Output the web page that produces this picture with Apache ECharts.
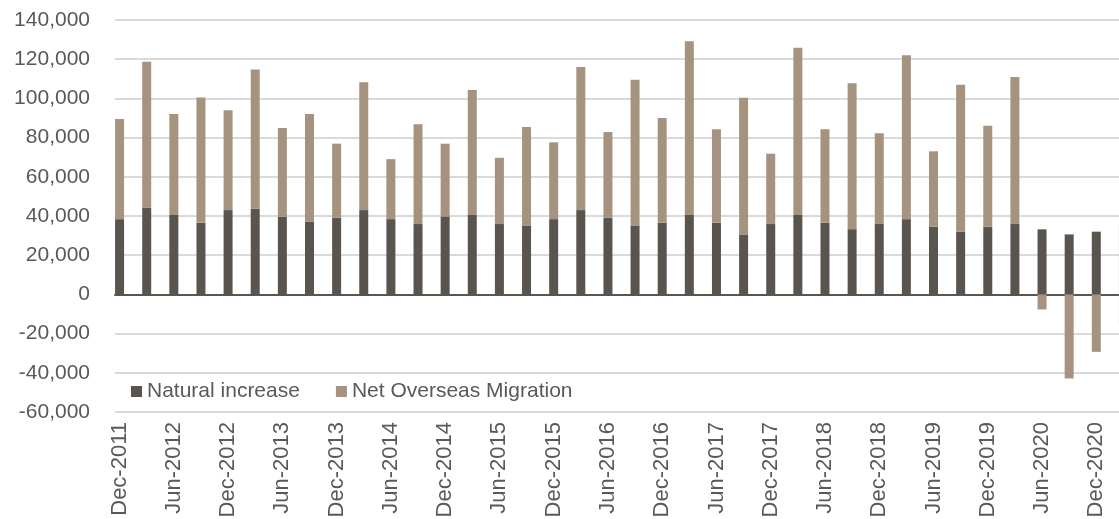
<!DOCTYPE html>
<html>
<head>
<meta charset="utf-8">
<title>Population growth components</title>
<script src="https://cdn.jsdelivr.net/npm/echarts@6/dist/echarts.min.js"></script>
<style>
  html, body { margin: 0; padding: 0; background: #ffffff; }
  #chart { width: 1119px; height: 519px; }
</style>
</head>
<body>
<div id="chart"></div>
<script>
// Quarterly periods
const quarters = [
  'Dec-2011', 'Mar-2012', 'Jun-2012', 'Sep-2012', 'Dec-2012', 'Mar-2013', 'Jun-2013', 'Sep-2013',
  'Dec-2013', 'Mar-2014', 'Jun-2014', 'Sep-2014', 'Dec-2014', 'Mar-2015', 'Jun-2015', 'Sep-2015',
  'Dec-2015', 'Mar-2016', 'Jun-2016', 'Sep-2016', 'Dec-2016', 'Mar-2017', 'Jun-2017', 'Sep-2017',
  'Dec-2017', 'Mar-2018', 'Jun-2018', 'Sep-2018', 'Dec-2018', 'Mar-2019', 'Jun-2019', 'Sep-2019',
  'Dec-2019', 'Mar-2020', 'Jun-2020', 'Sep-2020', 'Dec-2020', 'Mar-2021'
];

// Natural increase (births minus deaths) per quarter
const naturalIncrease = [
  38400, 44400, 40500, 36500, 43000, 43700, 39600, 37200,
  39100, 43000, 38400, 35900, 39800, 40500, 35900, 35200,
  38400, 43000, 39100, 35200, 36500, 40500, 36500, 30600,
  35900, 40500, 36500, 33300, 35900, 38400, 34500, 32000,
  34500, 35900, 33200, 30600, 32000, 36000
];

// Net overseas migration per quarter
const netOverseasMigration = [
  51100, 74300, 51500, 64000, 51000, 71100, 45300, 54800,
  37800, 65200, 30600, 50900, 37100, 63800, 33800, 50200,
  39200, 73000, 43700, 74300, 53500, 88600, 47700, 69700,
  35900, 85300, 47700, 74400, 46300, 83600, 38500, 75000,
  51500, 75000, -7700, -42900, -29300, -14700
];

// Value axis ticks
const yMin = -60000;
const yMax = 140000;
const yStep = 20000;

const FONT = '"Liberation Sans", Arial, sans-serif';
const TEXT = '#595959';
const DARK = '#59544e';
const LIGHT = '#a5937f';

const chart = echarts.init(document.getElementById('chart'), null, { renderer: 'canvas' });

chart.setOption({
  animation: false,
  backgroundColor: '#ffffff',
  textStyle: { fontFamily: FONT },
  legend: {
    left: 131,
    top: 381,
    padding: 0,
    itemGap: 36,
    itemWidth: 11,
    itemHeight: 11,
    icon: 'rect',
    textStyle: { color: TEXT, fontSize: 21, fontFamily: FONT },
    data: ['Natural increase', 'Net Overseas Migration']
  },
  grid: [
    // bars; the plot runs past the right edge of the canvas
    { left: 106, width: 1031, top: 20, bottom: 107, outerBoundsMode: 'none', containLabel: false },
    // gridlines, value labels and zero line
    { left: 115, width: 1030, top: 20, bottom: 107, outerBoundsMode: 'none', containLabel: false }
  ],
  xAxis: [
    {
      type: 'category',
      gridIndex: 0,
      data: quarters,
      boundaryGap: true,
      axisLine: { show: false },
      axisTick: { show: false },
      splitLine: { show: false },
      axisLabel: {
        interval: 1,
        rotate: 90,
        margin: 10,
        color: TEXT,
        fontSize: 22,
        fontFamily: FONT
      }
    },
    {
      type: 'value',
      gridIndex: 1,
      min: 0,
      max: 1,
      axisLine: { show: true, onZero: true, lineStyle: { color: '#5a5550', width: 2 } },
      axisTick: { show: false },
      axisLabel: { show: false },
      splitLine: { show: false }
    }
  ],
  yAxis: [
    {
      type: 'value',
      gridIndex: 0,
      min: yMin,
      max: yMax,
      interval: yStep,
      show: false
    },
    {
      type: 'value',
      gridIndex: 1,
      min: yMin,
      max: yMax,
      interval: yStep,
      axisLine: { show: false },
      axisTick: { show: false },
      axisLabel: {
        margin: 25,
        color: TEXT,
        fontSize: 21,
        fontFamily: FONT,
        formatter: v => v.toLocaleString('en-US')
      },
      splitLine: { show: true, lineStyle: { color: '#dadada', width: 2 } }
    }
  ],
  series: [
    {
      name: 'Natural increase',
      type: 'bar',
      stack: 'growth',
      xAxisIndex: 0,
      yAxisIndex: 0,
      barWidth: 9,
      itemStyle: { color: DARK },
      data: naturalIncrease
    },
    {
      name: 'Net Overseas Migration',
      type: 'bar',
      stack: 'growth',
      xAxisIndex: 0,
      yAxisIndex: 0,
      barWidth: 9,
      itemStyle: { color: LIGHT },
      data: netOverseasMigration
    }
  ]
});
</script>
</body>
</html>
